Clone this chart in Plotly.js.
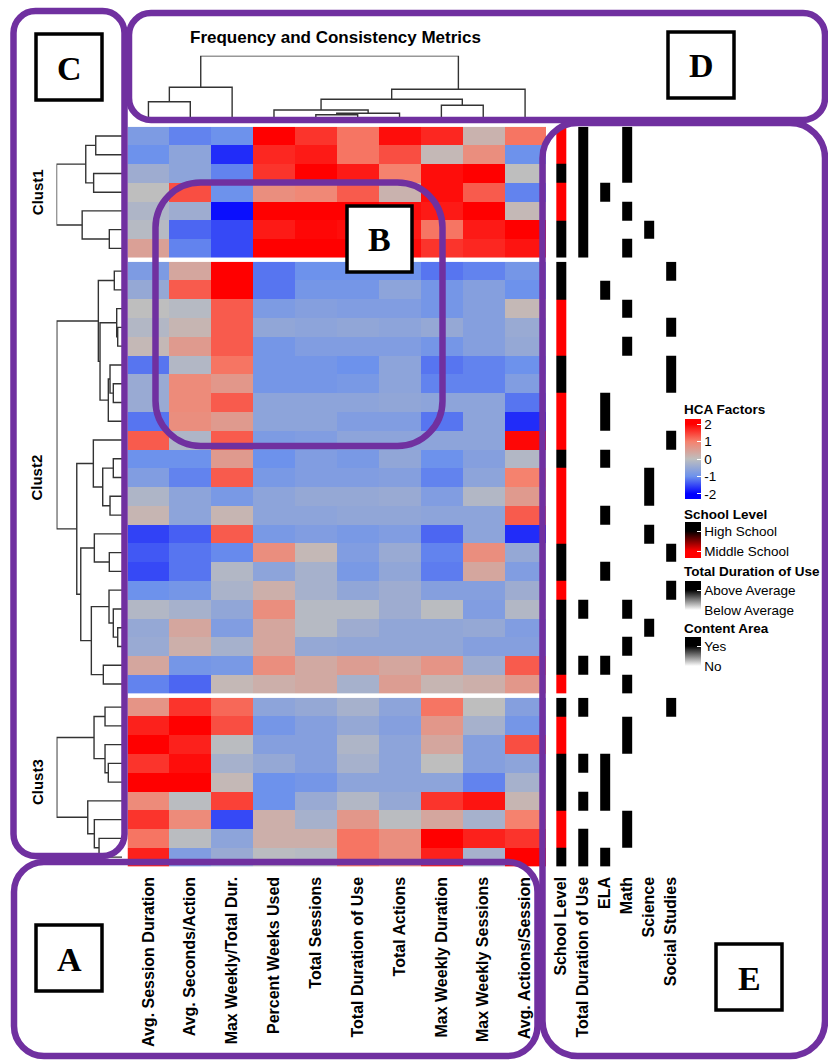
<!DOCTYPE html>
<html><head><meta charset="utf-8">
<script src="https://cdn.plot.ly/plotly-3.0.1.min.js"></script>
<style>html,body{margin:0;padding:0;background:#fff}#chart{width:828px;height:1061px}</style>
</head><body><div id="chart"></div>
<script>
const W = 828, H = 1061;

// ---------------- DATA ----------------
const metrics = ['Avg. Session Duration','Avg. Seconds/Action','Max Weekly/Total Dur.','Percent Weeks Used','Total Sessions','Total Duration of Use','Total Actions','Max Weekly Duration','Max Weekly Sessions','Avg. Actions/Session'];
const annotationLabels = ['School Level','Total Duration of Use','ELA','Math','Science','Social Studies'];
const contentAreas = ['ELA','Math','Science','Social Studies'];
const clusterNames = ['Clust1','Clust2','Clust3'];

const clust1Values = [
  [-0.8,-1.1,-1.0, 2.0, 1.6, 1.1, 1.9, 1.7, 0.2, 1.1],
  [-1.0,-0.6,-1.7, 1.7, 1.8, 1.1, 1.4, 0.1, 0.8,-1.0],
  [-0.4,-0.6,-1.1, 1.6, 2.0, 1.8, 1.0, 1.9, 2.0, 0.0],
  [ 0.0, 1.4,-1.0, 0.8, 0.9, 1.3, 0.2, 1.9, 1.3,-1.1],
  [-0.2,-0.4,-1.9, 2.0, 2.0, 2.0, 1.9, 1.8, 2.0, 0.1],
  [-0.1,-1.3,-1.5, 1.8, 1.95,1.9, 1.8, 1.1, 1.8, 2.0],
  [ 0.5,-1.1,-1.5, 2.0, 2.0, 2.0, 1.9, 1.6, 1.7, 1.85]
];
const clust2Values = [
  [-0.8, 0.4, 2.0,-1.2,-1.0,-1.0,-1.0,-1.2,-1.1,-0.9],
  [-0.5, 1.3, 2.0,-1.2,-0.9,-0.9,-0.6,-0.9,-0.7,-1.0],
  [ 0.0,-0.1, 1.3,-0.8,-0.7,-0.75,-0.75,-0.9,-0.7, 0.1],
  [-0.15,0.15,1.3,-0.55,-0.6,-0.55,-0.6,-0.5,-0.7,-0.45],
  [ 0.1, 0.6, 1.3,-0.9,-0.75,-0.75,-0.75,-0.9,-0.7,-0.5],
  [-1.2,-0.15,1.1,-0.9,-0.9,-1.0,-0.6,-1.2,-1.1,-1.0],
  [-0.45,0.85,0.65,-0.9,-0.9,-0.85,-0.6,-1.1,-1.1,-0.75],
  [-0.45,0.85,1.3,-0.6,-0.6,-0.6,-0.55,-0.6,-0.6,-1.2],
  [-1.2, 0.8, 0.6,-0.6,-0.6,-0.75,-0.75,-1.2,-0.6,-1.7],
  [ 1.3,-0.2, 1.3,-0.8,-0.75,-0.6,-0.6,-0.6,-0.6, 1.95],
  [-1.0,-1.0, 0.6,-1.0,-0.75,-0.85,-0.55,-1.0,-0.7,-0.15],
  [-0.75,-1.1,1.3,-0.85,-0.75,-0.75,-0.7,-1.1,-0.6, 1.0],
  [-0.2,-0.6,-0.85,-0.6,-0.5,-0.5,-0.45,-0.75,-0.15, 0.6],
  [ 0.15,-0.6,0.15,-0.6,-0.6,-0.55,-0.55,-0.6,-0.6, 1.3],
  [-1.55,-1.35,1.3,-0.85,-0.75,-0.85,-0.75,-1.3,-0.6,-1.7],
  [-1.4,-1.2,-1.05,0.8, 0.1,-0.75,-0.45,-1.1, 0.8,-0.5],
  [-1.5,-1.2,-0.15,-0.6,-0.3,-0.85,-0.55,-1.15,0.4,-0.75],
  [-1.0,-0.9,-0.25,0.25,-0.3,-0.55,-0.4,-0.7,-0.7,-0.4],
  [-0.15,-0.3,-0.55,0.8,-0.1,-0.1,-0.4,-0.05,-0.75,-0.15],
  [-0.5, 0.4,-0.75,0.4,-0.1,-0.4,-0.55,-0.55,-0.5,-0.75],
  [-0.45,0.25,-0.3,0.4,-0.5,-0.55,-0.55,-0.55,-0.7,-0.7],
  [ 0.4,-0.9,-0.85,0.8, 0.35,0.55,0.4, 0.7,-0.4, 1.3],
  [-1.1,-1.3, 0.1, 0.25,0.35,-0.3,0.55,0.15,0.25,0.65]
];
const clust3Values = [
  [ 0.7, 1.6, 1.2,-0.6,-0.5,-0.3,-0.6, 1.1, 0.0,-0.7],
  [ 1.75,2.0, 1.4,-0.9,-0.7,-0.5,-0.7, 0.65,-0.3,-0.9],
  [ 2.0, 1.75,-0.05,-0.7,-0.7,-0.2,-0.6,0.4,-0.7, 1.4],
  [ 1.6, 1.9,-0.3,-0.5,-0.7,-0.3,-0.6, 0.0,-0.7,-0.6],
  [ 2.0, 2.0, 0.1,-1.0,-0.9,-0.6,-0.6,-0.6,-1.1,-0.3],
  [ 0.85,-0.05,1.5,-1.0,-0.45,-0.15,-0.5,1.6, 1.85,0.15],
  [ 1.6, 0.85,-1.5,0.25,-0.3, 0.65,-0.05,0.4,-0.3, 1.0],
  [ 1.1,-0.05,-0.6,0.25,0.25, 1.1, 0.8, 2.0, 1.75,1.6],
  [ 1.75,-0.75,-0.45,-0.05,-0.1,1.1, 0.8, 1.75,-0.3, 2.0]
];

const clust1School = ['MS','MS','HS','MS','MS','HS','HS'];
const clust2School = ['HS','HS','MS','MS','MS','HS','HS','MS','MS','MS','HS','MS','MS','MS','MS','HS','HS','MS','HS','HS','HS','HS','MS'];
const clust3School = ['HS','MS','MS','HS','HS','HS','MS','MS','HS'];

const clust1Duration = ['Above','Above','Above','Above','Above','Above','Above'];
const clust2Duration = ['Below','Below','Below','Below','Below','Below','Below','Below','Below','Below','Below','Below','Below','Below','Below','Below','Below','Below','Above','Below','Below','Above','Below'];
const clust3Duration = ['Above','Below','Below','Above','Below','Above','Below','Above','Above'];

const clust1Content = ['Math','Math','Math','ELA','Math','Science','Math'];
const clust2Content = ['Social Studies','ELA','Math','Social Studies','Math','Social Studies','Social Studies','ELA','ELA','Social Studies','ELA','Science','Science','ELA','Science','Social Studies','ELA','Social Studies','Math','Science','Math','ELA','Math'];
const clust3Content = ['Social Studies','Math','Math','ELA','ELA','ELA','Math','Math','ELA'];

// dendrograms: [left, right, mergeHeight]; leaves are row/column indices
const rowTree1 = [[[0,1,26.3],[2,3,28.4],36.3],[4,[5,6,12.7],39.9],65.6];
const rowTree2 = [[[0,1,7.7],[[2,[3,4,4.3],5.3],[[5,[6,7,8.7],12],8,13.7],22],23.7],
                  [[9,[[10,11,8.7],[12,13,12],19.3],28.7],[[14,[15,16,12.7],27.7],[[17,[18,[19,20,4.3],8.7],13],[21,22,18.7],30.7],41.3],45.3],65.3];
const rowTree3 = [[[0,1,17],[2,[3,4,13.7],17],28],[5,[6,[7,8,23],27.7],34.3],65.3];
const colTree = [[[0,1,20.3],2,34.7],[[[3,[[4,5,7.3],6,8.7],12],[7,8,16.7],22.7],9,32.7],66.3];

// ---------------- HELPERS ----------------
const px = x => x / W, py = y => 1 - y / H;

function dendro(tree) {
  const pos = [], hgt = [];
  function walk(n) {
    if (typeof n === 'number') return {p: n, h: 0};
    const a = walk(n[0]), b = walk(n[1]), h = n[2];
    pos.push(a.p, a.p, b.p, b.p, null);
    hgt.push(a.h, h, h, b.h, null);
    return {p: (a.p + b.p) / 2, h: h};
  }
  walk(tree);
  return {pos, hgt};
}

const heatScale = [[0,'#0000FF'],[0.065,'#0000FF'],[0.283,'#6D92EC'],[0.5,'#BEBEBE'],[0.717,'#F5826E'],[0.935,'#FF0000'],[1,'#FF0000']];
const schoolScale = [[0,'#FF0000'],[0.194,'#FF0000'],[0.75,'#000000'],[1,'#000000']];
const greyScale = [[0,'#FFFFFF'],[0.194,'#FFFFFF'],[0.75,'#000000'],[1,'#000000']];

const clusters = [
  {vals: clust1Values, school: clust1School, dur: clust1Duration, content: clust1Content, tree: rowTree1, y: 'y',  dom: [257.7, 126.7]},
  {vals: clust2Values, school: clust2School, dur: clust2Duration, content: clust2Content, tree: rowTree2, y: 'y2', dom: [693.4, 261.7]},
  {vals: clust3Values, school: clust3School, dur: clust3Duration, content: clust3Content, tree: rowTree3, y: 'y3', dom: [866.5, 697.7]}
];

const tickFont = {family: 'Liberation Sans, Arial', size: 13.5, color: '#000'};
function cbar(top, len, vals, text) {
  return {x: px(685), xanchor: 'left', xpad: 0, y: py(top), yanchor: 'top', ypad: 0,
    len: len, lenmode: 'pixels', thickness: 16, thicknessmode: 'pixels', outlinewidth: 0,
    tickvals: vals, ticktext: text, ticks: 'inside', ticklen: 4, tickcolor: '#fff', tickwidth: 1,
    tickfont: tickFont, title: {text: ''}};
}

const traces = [];
clusters.forEach((c, k) => {
  const rows = c.vals.map((_, i) => i);
  traces.push({type: 'heatmap', z: c.vals, x: metrics.map((_, i) => i), y: rows, xaxis: 'x', yaxis: c.y,
    colorscale: heatScale, zmin: -2.3, zmax: 2.3, showscale: k === 0,
    colorbar: cbar(419, 80, [-2,-1,0,1,2], ['-2','-1','0','1','2']), hoverinfo: 'skip'});
  traces.push({type: 'heatmap', z: c.school.map(s => [s === 'HS' ? 1 : 0]), x: [0], y: rows, xaxis: 'x2', yaxis: c.y,
    colorscale: schoolScale, zmin: -0.35, zmax: 1.45, xgap: 12, showscale: k === 0,
    colorbar: cbar(522, 36, [0,1], ['Middle School','High School']), hoverinfo: 'skip'});
  traces.push({type: 'heatmap', z: c.dur.map(s => [s === 'Above' ? 1 : 0]), x: [1], y: rows, xaxis: 'x2', yaxis: c.y,
    colorscale: greyScale, zmin: -0.35, zmax: 1.45, xgap: 12, showscale: k === 0,
    colorbar: cbar(581, 36, [0,1], ['Below Average','Above Average']), hoverinfo: 'skip'});
  traces.push({type: 'heatmap', z: c.content.map(s => contentAreas.map(a => a === s ? 1 : 0)), x: [2,3,4,5], y: rows, xaxis: 'x2', yaxis: c.y,
    colorscale: greyScale, zmin: -0.35, zmax: 1.45, xgap: 12, showscale: k === 0,
    colorbar: cbar(637, 36, [0,1], ['No','Yes']), hoverinfo: 'skip'});
  const d = dendro(c.tree);
  traces.push({type: 'scatter', mode: 'lines', x: d.hgt, y: d.pos, xaxis: 'x3', yaxis: c.y,
    line: {color: '#333333', width: 1.4}, hoverinfo: 'skip', showlegend: false});
});
const cd = dendro(colTree);
traces.push({type: 'scatter', mode: 'lines', x: cd.pos, y: cd.hgt, xaxis: 'x', yaxis: 'y4',
  line: {color: '#333333', width: 1.4}, hoverinfo: 'skip', showlegend: false});

const hidden = {showgrid: false, zeroline: false, showline: false, showticklabels: false, ticks: '', automargin: false, fixedrange: true};
const labFont = {family: 'Liberation Sans, Arial', size: 16, color: '#000', weight: 'bold'};

const layout = {
  width: W, height: H, margin: {l: 0, r: 0, t: 0, b: 0}, paper_bgcolor: '#fff', plot_bgcolor: 'rgba(0,0,0,0)',
  showlegend: false, font: {family: 'Liberation Sans, Arial'},
  xaxis: Object.assign({}, hidden, {domain: [px(127.5), px(546)], range: [-0.5, 9.5], anchor: 'y3',
    showticklabels: true, tickvals: metrics.map((_, i) => i), ticktext: metrics, tickangle: -90,
    ticks: 'outside', ticklen: 3, tickcolor: 'rgba(0,0,0,0)', tickfont: labFont}),
  xaxis2: Object.assign({}, hidden, {domain: [px(550.3), px(681.8)], range: [-0.5, 5.5], anchor: 'y3',
    showticklabels: true, tickvals: [0,1,2,3,4,5], ticktext: annotationLabels, tickangle: -90,
    ticks: 'outside', ticklen: 3, tickcolor: 'rgba(0,0,0,0)', tickfont: labFont}),
  xaxis3: Object.assign({}, hidden, {domain: [px(56.5), px(122)], range: [65.6, 0], anchor: 'y'}),
  yaxis: Object.assign({}, hidden, {domain: [py(257.7), py(126.7)], range: [6.5, -0.5], anchor: 'x'}),
  yaxis2: Object.assign({}, hidden, {domain: [py(693.4), py(261.7)], range: [22.5, -0.5], anchor: 'x'}),
  yaxis3: Object.assign({}, hidden, {domain: [py(866.5), py(697.7)], range: [8.5, -0.5], anchor: 'x'}),
  yaxis4: Object.assign({}, hidden, {domain: [py(122), py(55.7)], range: [0, 66.3], anchor: 'x'}),
  shapes: [], annotations: []
};

function rr(x0, y0, x1, y1, r) {
  const k = 0.5523 * r;
  const P = (x, y) => px(x).toFixed(5) + ',' + py(y).toFixed(5);
  return 'M' + P(x0 + r, y0) + ' L' + P(x1 - r, y0) +
    ' C' + P(x1 - r + k, y0) + ' ' + P(x1, y0 + r - k) + ' ' + P(x1, y0 + r) +
    ' L' + P(x1, y1 - r) +
    ' C' + P(x1, y1 - r + k) + ' ' + P(x1 - r + k, y1) + ' ' + P(x1 - r, y1) +
    ' L' + P(x0 + r, y1) +
    ' C' + P(x0 + r - k, y1) + ' ' + P(x0, y1 - r + k) + ' ' + P(x0, y1 - r) +
    ' L' + P(x0, y0 + r) +
    ' C' + P(x0, y0 + r - k) + ' ' + P(x0 + r - k, y0) + ' ' + P(x0 + r, y0) + ' Z';
}
const purple = '#7030A0';
[[13.5, 11, 124.5, 856, 22], [129, 13, 825, 120, 22], [542.5, 123, 825, 1056, 35],
 [14, 862, 537.5, 1056, 30], [155.5, 182.5, 442.5, 446, 45]].forEach(b => {
  layout.shapes.push({type: 'path', xref: 'paper', yref: 'paper', path: rr(b[0], b[1], b[2], b[3], b[4]),
    line: {color: purple, width: 6.5}, fillcolor: 'rgba(0,0,0,0)', layer: 'above'});
});
const letters = [['C', 36, 34, 102, 100], ['D', 668, 32, 734, 98], ['B', 347, 206, 412, 272], ['A', 36, 925, 102, 991], ['E', 716, 944, 782, 1010]];
letters.forEach(l => {
  layout.shapes.push({type: 'rect', xref: 'paper', yref: 'paper', x0: px(l[1]), x1: px(l[3]), y0: py(l[4]), y1: py(l[2]),
    line: {color: '#000', width: 3.5}, fillcolor: '#fff', layer: 'above'});
  layout.annotations.push({xref: 'paper', yref: 'paper', x: px((l[1] + l[3]) / 2), y: py((l[2] + l[4]) / 2 + 1),
    text: '<b>' + l[0] + '</b>', showarrow: false, xanchor: 'center', yanchor: 'middle',
    font: {family: 'Liberation Serif, Times New Roman, serif', size: 34, color: '#000'}});
});
layout.annotations.push({xref: 'paper', yref: 'paper', x: px(335.5), y: py(37), text: '<b>Frequency and Consistency Metrics</b>',
  showarrow: false, xanchor: 'center', yanchor: 'middle', font: {family: 'Liberation Sans, Arial', size: 17, color: '#000'}});
clusterNames.forEach((n, k) => {
  const d = clusters[k].dom;
  layout.annotations.push({xref: 'paper', yref: 'paper', x: px(37), y: py((d[0] + d[1]) / 2), text: '<b>' + n + '</b>',
    textangle: -90, showarrow: false, xanchor: 'center', yanchor: 'middle', font: {family: 'Liberation Sans, Arial', size: 15, color: '#000'}});
});
[['HCA Factors', 409], ['School Level', 514], ['Total Duration of Use', 571], ['Content Area', 628]].forEach(t => {
  layout.annotations.push({xref: 'paper', yref: 'paper', x: px(682), y: py(t[1]), text: '<b>' + t[0] + '</b>',
    showarrow: false, xanchor: 'left', yanchor: 'middle', font: {family: 'Liberation Sans, Arial', size: 13.5, color: '#000'}});
});

Plotly.newPlot('chart', traces, layout, {displayModeBar: false, staticPlot: true});
</script></body></html>
